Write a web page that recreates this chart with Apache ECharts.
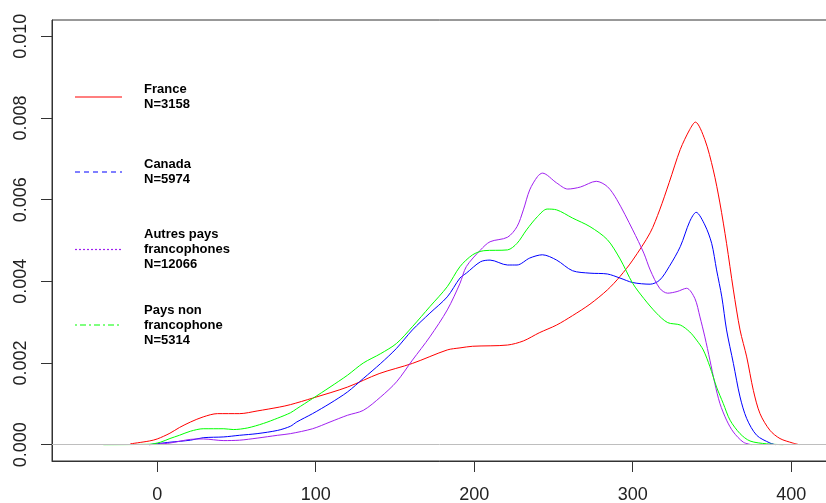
<!DOCTYPE html>
<html>
<head>
<meta charset="utf-8">
<title>Densité</title>
<script src="https://cdn.jsdelivr.net/npm/echarts@6/dist/echarts.min.js"></script>
<style>
  html, body { margin: 0; padding: 0; background: #fff; }
  #chart { width: 826px; height: 503px; }
</style>
</head>
<body>
<div id="chart"></div>
<script>
// labels of the legend
const seriesNames = ['France', 'Canada', 'Autres pays\nfrancophones', 'Pays non\nfrancophone']
const seriesCounts = [3158, 5974, 12066, 5314]
const seriesColors = ['#FF0000', '#0000FF', '#A020F0', '#00FF00']

// axis ticks
const xTicks = [0, 100, 200, 300, 400]
const yTicks = [0, 0.002, 0.004, 0.006, 0.008, 0.010]

// density curves
const franceX = [-17, -5, 0, 8, 14, 21, 29, 38, 52, 63, 77, 84, 98, 120, 140, 161, 183, 191, 199, 221, 231, 241, 252, 262, 273, 284, 292, 300, 311, 317, 323, 330, 336, 339.5, 345.5, 350.8, 355, 359.2, 363.5, 367.7, 371.9, 376.1, 380.3, 386.6, 392.9, 401, 405]
const franceY = [0.00002, 0.00009, 0.00014, 0.00028, 0.00042, 0.000555, 0.00068, 0.00076, 0.00076, 0.000825, 0.00092, 0.00098, 0.00114, 0.00141, 0.00174, 0.00199, 0.00232, 0.00237, 0.00241, 0.00244, 0.00254, 0.00274, 0.00293, 0.00316, 0.00344, 0.00379, 0.00412, 0.00452, 0.00519, 0.00575, 0.00642, 0.00723, 0.00772, 0.00790, 0.00747, 0.00673, 0.00592, 0.00493, 0.00379, 0.00281, 0.00215, 0.00133, 0.00076, 0.00035, 0.00015, 0.00004, 0]

const canadaX = [-5, 8, 21, 29, 42, 52, 63, 76, 84, 88, 98, 109, 120, 130, 141, 151, 161, 172, 183, 191, 195, 204, 210, 221, 227, 235, 243, 252, 262, 273, 284, 292, 300, 311, 317, 323, 330, 336, 340, 345.5, 349.8, 352.9, 356.2, 359.2, 363.5, 367.7, 371.9, 378.2, 386.6, 390]
const canadaY = [0, 0.00006, 0.00011, 0.00017, 0.00019, 0.00023, 0.00027, 0.00035, 0.00045, 0.000555, 0.00076, 0.00101, 0.00129, 0.00162, 0.00199, 0.00236, 0.00281, 0.00322, 0.00362, 0.00408, 0.00420, 0.00448, 0.00452, 0.00440, 0.00440, 0.00457, 0.00465, 0.00452, 0.00426, 0.00420, 0.00418, 0.00408, 0.00397, 0.00393, 0.00403, 0.00436, 0.00485, 0.00547, 0.00569, 0.00538, 0.00493, 0.00428, 0.00362, 0.00281, 0.00199, 0.00117, 0.00064, 0.00023, 0.00004, 0]

const autresX = [-5, 8, 21, 29, 42, 52, 63, 76, 84, 98, 109, 120, 130, 141, 151, 161, 172, 183, 191, 195, 204, 210, 221, 227, 231, 235, 240, 243, 252, 259, 267, 277, 284, 290, 300, 307, 311, 317, 322, 328, 334, 339.2, 342.4, 345.5, 348.7, 351.8, 355, 359.2, 363.5, 369.8, 375]
const autresY = [0, 0.00004, 0.00013, 0.00014, 0.00010, 0.00011, 0.00016, 0.00023, 0.00027, 0.00039, 0.000555, 0.00072, 0.00084, 0.00117, 0.00154, 0.00207, 0.00264, 0.00330, 0.00395, 0.00436, 0.00477, 0.00497, 0.00508, 0.00534, 0.00575, 0.00624, 0.00657, 0.00665, 0.00641, 0.00626, 0.00631, 0.00645, 0.00632, 0.00600, 0.00526, 0.00469, 0.00428, 0.00383, 0.00371, 0.00375, 0.00383, 0.00358, 0.00313, 0.00264, 0.00207, 0.00150, 0.00101, 0.00060, 0.00031, 0.00006, 0]

const paysNonX = [-34, -5, 2, 8, 14, 21, 29, 42, 48, 57, 67, 76, 84, 88, 98, 109, 120, 130, 141, 151, 161, 172, 183, 191, 199, 206, 221, 227, 233, 240, 246, 252, 262, 273, 284, 292, 300, 307, 315, 322, 330, 336, 340.3, 344.5, 348.7, 352.9, 357.1, 361.4, 367.7, 374, 384.5, 395]
const paysNonY = [0, 0.00001, 0.00006, 0.00015, 0.00023, 0.00033, 0.00039, 0.00039, 0.00037, 0.00041, 0.00052, 0.00065, 0.00078, 0.00088, 0.00113, 0.00141, 0.00170, 0.00200, 0.00223, 0.00248, 0.00289, 0.00338, 0.00387, 0.00436, 0.00465, 0.00475, 0.00477, 0.00493, 0.00526, 0.00559, 0.00577, 0.00575, 0.00555, 0.00534, 0.00502, 0.00455, 0.00395, 0.00358, 0.00322, 0.00299, 0.00293, 0.00276, 0.00256, 0.00232, 0.00191, 0.00141, 0.00101, 0.00060, 0.00027, 0.00009, 0.00002, 0]

const curvesX = [franceX, canadaX, autresX, paysNonX]
const curvesY = [franceY, canadaY, autresY, paysNonY]
const legendDash = [null, [5, 4], [2, 2], [2, 3, 6, 3]]

const chart = echarts.init(document.getElementById('chart'), null, { renderer: 'canvas' })

const fontFamily = '"Liberation Sans", Arial, sans-serif'

let series = curvesX.map(function (xs, i) {
  return {
    name: seriesNames[i],
    type: 'line',
    symbol: 'none',
    smooth: 0.3,
    z: 3,
    lineStyle: { color: seriesColors[i], width: 1 },
    data: xs.map(function (x, k) { return [x, curvesY[i][k]] })
  }
})
// gray horizontal line at zero
series.unshift({
  type: 'line',
  data: [],
  z: 1,
  markLine: {
    silent: true,
    symbol: 'none',
    label: { show: false },
    lineStyle: { color: '#BEBEBE', type: 'solid', width: 1 },
    data: [{ yAxis: 0 }]
  }
})

// legend drawn by hand, R style
const legendRows = [97, 172, 249.5, 325]
let graphic = []
seriesNames.forEach(function (name, i) {
  let y = legendRows[i]
  graphic.push({
    type: 'line',
    shape: { x1: 75, y1: y, x2: 122, y2: y },
    style: { stroke: seriesColors[i], lineWidth: 1.2, lineDash: legendDash[i] }
  })
  graphic.push({
    type: 'text',
    x: 144,
    y: y,
    style: {
      text: name + '\nN=' + seriesCounts[i],
      font: 'bold 13px ' + fontFamily,
      fill: '#000',
      lineHeight: 15,
      verticalAlign: 'middle',
      align: 'left'
    }
  })
})

const option = {
  animation: false,
  backgroundColor: '#fff',
  grid: {
    left: 52, top: 20, bottom: 42, right: -2,
    outerBoundsMode: 'none',
    containLabel: false,
    show: true, borderColor: '#333', borderWidth: 1
  },
  xAxis: {
    type: 'value',
    min: -66.4,
    max: 423.2,
    axisLine: { show: true, onZero: false, lineStyle: { color: '#333' } },
    axisTick: { show: true, length: 11, customValues: xTicks, lineStyle: { color: '#333' } },
    axisLabel: {
      customValues: xTicks, margin: 25, fontSize: 18, color: '#222', fontFamily: fontFamily
    },
    splitLine: { show: false }
  },
  yAxis: {
    type: 'value',
    min: -0.0004,
    max: 0.0104,
    axisLine: { show: true, onZero: false, lineStyle: { color: '#333' } },
    axisTick: { show: true, length: 11, customValues: yTicks, lineStyle: { color: '#333' } },
    axisLabel: {
      customValues: yTicks, rotate: 90, margin: 22, fontSize: 18, color: '#222',
      fontFamily: fontFamily,
      formatter: function (v) { return v.toFixed(3) }
    },
    splitLine: { show: false }
  },
  graphic: graphic,
  series: series
}

chart.setOption(option)
</script>
</body>
</html>
